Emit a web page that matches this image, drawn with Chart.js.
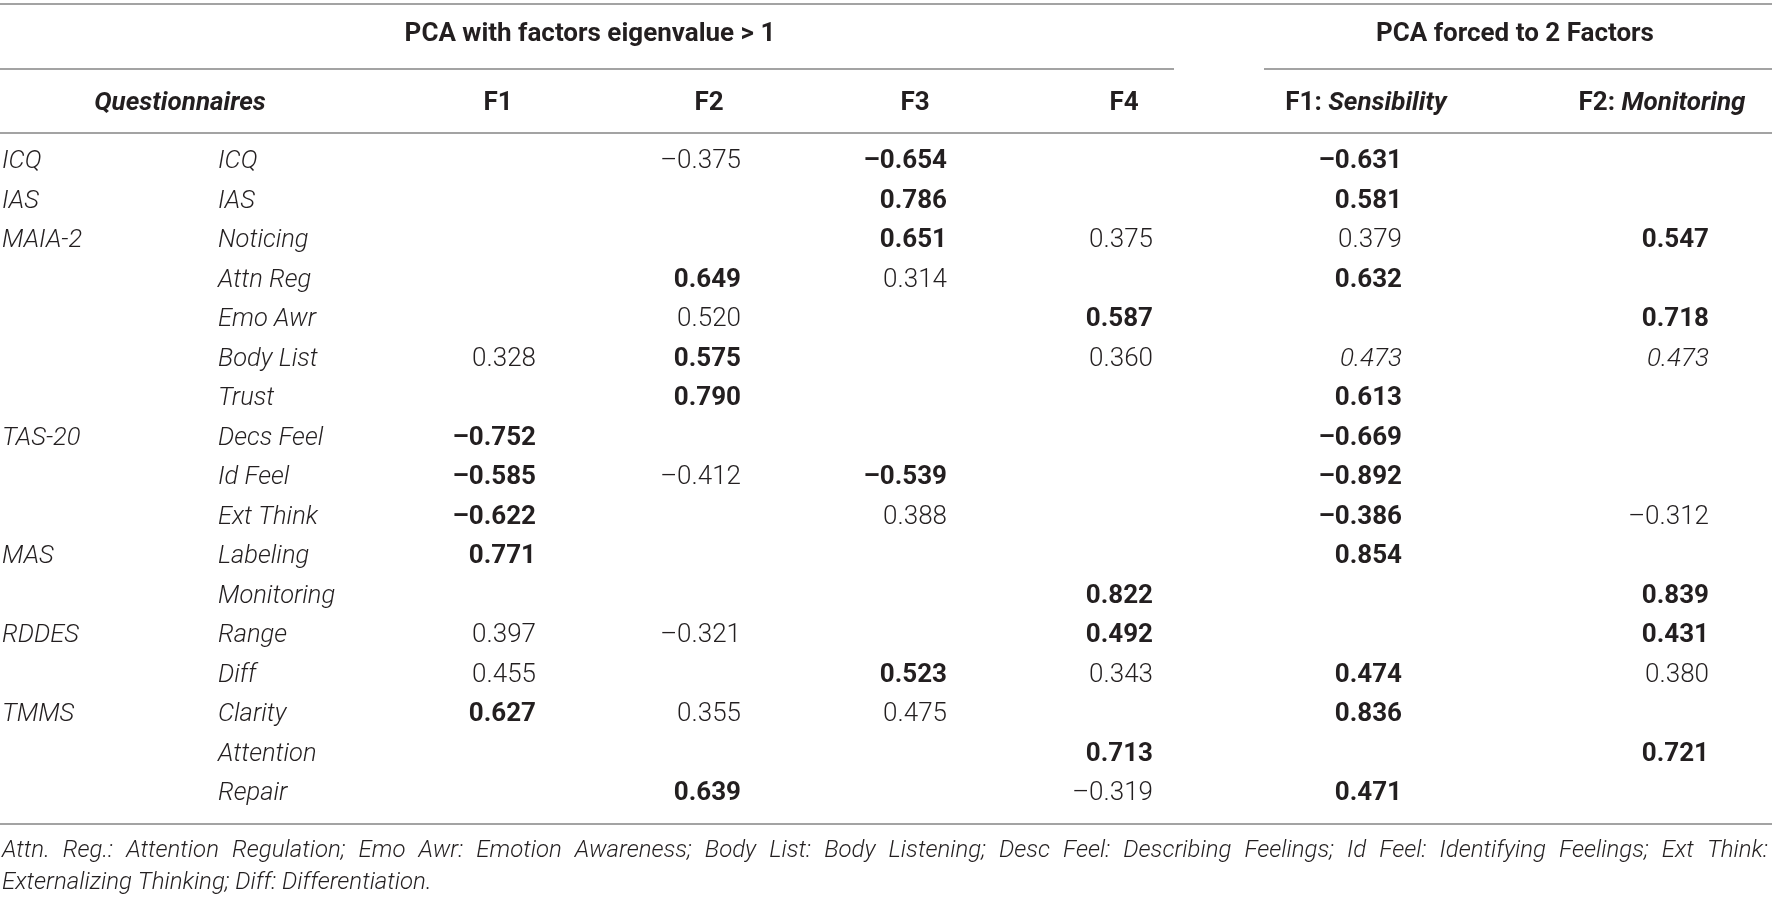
<!DOCTYPE html>
<html>
<head>
<meta charset="utf-8">
<script src="https://cdn.jsdelivr.net/npm/chart.js@4.4.1/dist/chart.umd.min.js"></script>
<style>
  html, body { margin: 0; padding: 0; background: #fff; }
  #wrap { width: 1772px; height: 897px; }
</style>
</head>
<body>
<div id="wrap"><canvas id="table"></canvas></div>
<script>
// table content
const questionnaires = ["ICQ", "IAS", "MAIA-2", "", "", "", "", "TAS-20", "", "", "MAS", "", "RDDES", "", "TMMS", "", ""];
const subscales = ["ICQ", "IAS", "Noticing", "Attn Reg", "Emo Awr", "Body List", "Trust", "Decs Feel", "Id Feel",
  "Ext Think", "Labeling", "Monitoring", "Range", "Diff", "Clarity", "Attention", "Repair"];

const f1 = [null, null, null, null, null, 0.328, null, -0.752, -0.585, -0.622, 0.771, null, 0.397, 0.455, 0.627, null, null];
const f2 = [-0.375, null, null, 0.649, 0.520, 0.575, 0.790, null, -0.412, null, null, null, -0.321, null, 0.355, null, 0.639];
const f3 = [-0.654, 0.786, 0.651, 0.314, null, null, null, null, -0.539, 0.388, null, null, null, 0.523, 0.475, null, null];
const f4 = [null, null, 0.375, null, 0.587, 0.360, null, null, null, null, null, 0.822, 0.492, 0.343, null, 0.713, -0.319];
const sensibility = [-0.631, 0.581, 0.379, 0.632, null, 0.473, 0.613, -0.669, -0.892, -0.386, 0.854, null, null, 0.474, 0.836, null, 0.471];
const monitoring = [null, null, 0.547, null, 0.718, 0.473, null, null, null, -0.312, null, 0.839, 0.431, 0.380, null, 0.721, null];

// rows printed in bold / italic for each column
const f1Bold = [7, 8, 9, 10, 14];
const f2Bold = [3, 5, 6, 16];
const f3Bold = [0, 1, 2, 8, 13];
const f4Bold = [4, 11, 12, 15];
const sensibilityBold = [0, 1, 3, 6, 7, 8, 9, 10, 13, 14, 16];
const monitoringBold = [2, 4, 11, 12, 15];
const italicRows = [5];

const groupHeaders = ["PCA with factors eigenvalue > 1", "PCA forced to 2 Factors"];
const columnHeaders = [["F1", ""], ["F2", ""], ["F3", ""], ["F4", ""], ["F1: ", "Sensibility"], ["F2: ", "Monitoring"]];
const footnote = ["Attn. Reg.: Attention Regulation; Emo Awr: Emotion Awareness; Body List: Body Listening; Desc Feel: Describing Feelings; Id Feel: Identifying Feelings; Ext Think:",
  "Externalizing Thinking; Diff: Differentiation."];

// layout (x in page units, y in row units)
const colRight = [536, 741, 947, 1153, 1402, 1709];
const colCenter = [498, 709, 915, 1124, 1366, 1662];
const groupCenter = [590, 1515];
const groupSpan = [[0, 1174], [1264, 1772]];
const qLeft = 2, subLeft = 218, qHeaderCenter = 180;
const yTopLine = -4.0, yGroup = -3.22, yGroupLine = -2.35, yHead = -1.49, yHeadLine = -0.73, yBottom = 16.76;
const yFoot = [17.44, 18.25];

const FONT = "Roboto, 'Liberation Sans', sans-serif";
const INK = "#231f20";
const RULE = "#a3a3a3";
const HEAD = "26px ";
const LABEL = "25.5px ";
const VALUE = "26px ";
const NOTE = "24px ";

const columns = [f1, f2, f3, f4, sensibility, monitoring];
const bolds = [f1Bold, f2Bold, f3Bold, f4Bold, sensibilityBold, monitoringBold];

function fmt(v) {
  const s = Math.abs(v).toFixed(3);
  return v < 0 ? "\u2013" + s : s;
}

const datasets = columns.map((col, i) => ({
  label: "col" + i,
  data: col.map((v, r) => ({ x: colRight[i], y: r, v: v, row: r })).filter(p => p.v !== null),
  pointRadius: 0,
  pointHoverRadius: 0,
  showLine: false
}));

const tablePlugin = {
  id: "tableText",
  afterDraw(chart) {
    const { ctx, scales: { x, y } } = chart;
    ctx.save();
    ctx.fillStyle = INK;
    ctx.textBaseline = "middle";

    // rules
    ctx.strokeStyle = RULE;
    ctx.lineWidth = 2;
    const hline = (x0, x1, yv) => {
      const py = Math.round(y.getPixelForValue(yv));
      ctx.beginPath();
      ctx.moveTo(x.getPixelForValue(x0), py);
      ctx.lineTo(x.getPixelForValue(x1), py);
      ctx.stroke();
    };
    hline(0, 1772, yTopLine);
    groupSpan.forEach(s => hline(s[0], s[1], yGroupLine));
    hline(0, 1772, yHeadLine);
    hline(0, 1772, yBottom);

    // group headers
    ctx.font = "700 " + HEAD + FONT;
    ctx.textAlign = "center";
    groupHeaders.forEach((t, i) => ctx.fillText(t, x.getPixelForValue(groupCenter[i]), y.getPixelForValue(yGroup)));

    // column headers
    ctx.font = "italic 700 " + HEAD + FONT;
    ctx.fillText("Questionnaires", x.getPixelForValue(qHeaderCenter), y.getPixelForValue(yHead));
    columnHeaders.forEach((h, i) => {
      ctx.font = "700 " + HEAD + FONT;
      const w1 = ctx.measureText(h[0]).width;
      ctx.font = "italic 700 " + HEAD + FONT;
      const w2 = ctx.measureText(h[1]).width;
      const left = x.getPixelForValue(colCenter[i]) - (w1 + w2) / 2;
      const py = y.getPixelForValue(yHead);
      ctx.textAlign = "left";
      ctx.font = "700 " + HEAD + FONT;
      ctx.fillText(h[0], left, py);
      ctx.font = "italic 700 " + HEAD + FONT;
      ctx.fillText(h[1], left + w1, py);
      ctx.textAlign = "center";
    });

    // row labels
    ctx.textAlign = "left";
    ctx.font = "italic 300 " + LABEL + FONT;
    subscales.forEach((s, r) => {
      const py = y.getPixelForValue(r);
      if (questionnaires[r]) ctx.fillText(questionnaires[r], x.getPixelForValue(qLeft), py);
      ctx.fillText(s, x.getPixelForValue(subLeft), py);
    });

    // loadings, placed on the dataset points
    ctx.textAlign = "right";
    chart.data.datasets.forEach((ds, i) => {
      chart.getDatasetMeta(i).data.forEach((el, k) => {
        const p = ds.data[k];
        const bold = bolds[i].includes(p.row);
        const ital = i >= 4 && italicRows.includes(p.row);
        ctx.font = (ital ? "italic " : "") + (bold ? "700 " : "300 ") + VALUE + FONT;
        ctx.fillText(fmt(p.v), el.x, el.y);
      });
    });

    // footnote, first line justified
    ctx.textAlign = "left";
    ctx.font = "italic 300 " + NOTE + FONT;
    const words = footnote[0].split(" ");
    const ws = words.map(w => ctx.measureText(w).width);
    const x0 = x.getPixelForValue(qLeft), x1 = x.getPixelForValue(1768);
    const gap = Math.max(4, (x1 - x0 - ws.reduce((a, b) => a + b, 0)) / (words.length - 1));
    let cx = x0;
    words.forEach((w, i) => { ctx.fillText(w, cx, y.getPixelForValue(yFoot[0])); cx += ws[i] + gap; });
    ctx.fillText(footnote[1], x0, y.getPixelForValue(yFoot[1]));
    ctx.restore();
  }
};

new Chart(document.getElementById("table"), {
  type: "scatter",
  data: { datasets },
  options: {
    responsive: true,
    maintainAspectRatio: false,
    animation: false,
    events: [],
    layout: { padding: 0 },
    plugins: { legend: { display: false }, tooltip: { enabled: false } },
    scales: {
      x: { type: "linear", min: 0, max: 1772, display: false },
      y: { type: "linear", min: -4.1, max: 18.61, reverse: true, display: false }
    }
  },
  plugins: [tablePlugin]
});
</script>
</body>
</html>
